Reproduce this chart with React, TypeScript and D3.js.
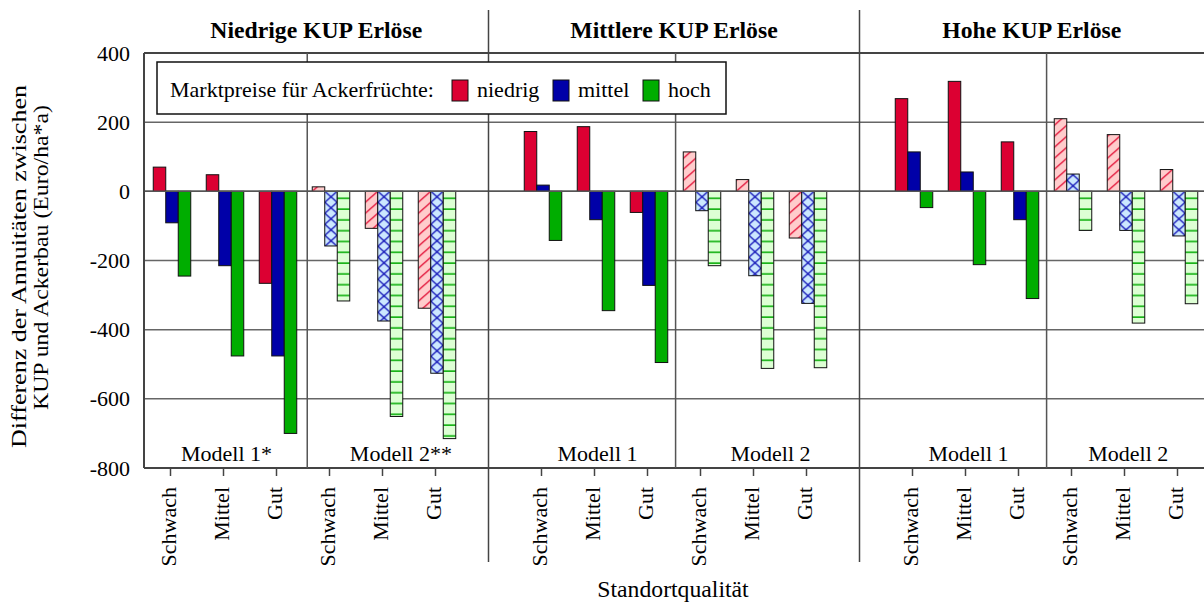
import * as d3 from "d3";
import React from "react";

const panelTitles = ["Niedrige KUP Erlöse", "Mittlere KUP Erlöse", "Hohe KUP Erlöse"];
const modelLabels = [
	["Modell 1*", "Modell 2**"],
	["Modell 1", "Modell 2"],
	["Modell 1", "Modell 2"],
];
const siteLabels = ["Schwach", "Mittel", "Gut"];
const priceLevels = ["niedrig", "mittel", "hoch"];
const yTicks = [400, 200, 0, -200, -400, -600, -800];

// order: panel (niedrig/mittel/hoch KUP) -> model (1/2) -> site (Schwach/Mittel/Gut)
const niedrigValues = [70, 48, -266, 13, -107, -338, 173, 187, -61, 114, 34, -135, 268, 318, 143, 210, 164, 63];
const mittelValues = [-91, -215, -476, -158, -375, -526, 18, -82, -272, -56, -244, -324, 114, 56, -82, 50, -113, -129];
const hochValues = [-245, -476, -700, -317, -651, -715, -142, -345, -495, -215, -512, -510, -47, -212, -310, -113, -381, -325];
const seriesValues = [niedrigValues, mittelValues, hochValues];

const solidColors = ["#dc0032", "#0000a8", "#00ad00"];
const lightColors = ["#ffcccc", "#cce8ff", "#ddffd4"];
const lineColors = ["#e0002a", "#0000b0", "#00aa00"];

const W = 1204;
const H = 603;
const plotLeft = 144;
const plotTop = 53;
const plotBottom = 468;
const barW = 12.5;
const font = "'Liberation Serif', 'Times New Roman', serif";
const fs = 22;

const App = () => {
	const xScale = d3.scaleLinear().domain([0.5, 20.5]).range([plotLeft, W]);
	const yScale = d3.scaleLinear().domain([-800, 400]).range([plotBottom, plotTop]);
	const y0 = yScale(0);

	const slot = (i: number) => {
		const p = Math.floor(i / 6);
		const m = Math.floor((i % 6) / 3);
		const s = i % 3;
		return { p, m, s, u: 1 + 7 * p + 3 * m + s };
	};

	const bars: any[] = [];
	seriesValues.forEach((vals, k) => {
		vals.forEach((v, i) => {
			const { m, u } = slot(i);
			const x = xScale(u) - 1.5 * barW + k * barW + 1.5;
			const yv = yScale(v);
			bars.push({ k, i, m, x, y: Math.min(yv, y0), h: Math.abs(yv - y0) });
		});
	});

	const patternFor = (b: any) => {
		const id = `pat-${b.k}-${b.i}`;
		if (b.k === 0) {
			return (
				<pattern key={id} id={id} patternUnits="userSpaceOnUse" x={b.x} y={y0} width={barW} height={11}>
					<rect width={barW} height={11} fill={lightColors[0]} />
					<path d={`M0,11 L${barW},0 M-3,3 L3,-3 M${barW - 3},14 L${barW + 3},8`} stroke={lineColors[0]} strokeWidth={1.3} />
				</pattern>
			);
		}
		if (b.k === 1) {
			return (
				<pattern key={id} id={id} patternUnits="userSpaceOnUse" x={b.x} y={y0} width={barW} height={11}>
					<rect width={barW} height={11} fill={lightColors[1]} />
					<path d={`M0,0 L${barW},11 M0,11 L${barW},0`} stroke={lineColors[1]} strokeWidth={1.3} />
				</pattern>
			);
		}
		return (
			<pattern key={id} id={id} patternUnits="userSpaceOnUse" x={b.x} y={y0} width={barW} height={10.8}>
				<rect width={barW} height={10.8} fill={lightColors[2]} />
				<path d={`M0,7 L${barW},7`} stroke={lineColors[2]} strokeWidth={1.5} />
			</pattern>
		);
	};

	const ticksU = d3.range(18).map((i) => slot(i));
	const subSeps = [3.58, 10.53, 17.53];

	return (
		<svg width={W} height={H} style={{ position: "absolute", left: 0, top: 0, background: "white" }} fontFamily={font}>
			<defs>{bars.filter((b) => b.m === 1).map(patternFor)}</defs>

			{/* grid */}
			{yTicks.slice(1, -1).map((t) => (
				<line key={t} x1={plotLeft} x2={W} y1={yScale(t)} y2={yScale(t)} stroke="#666" strokeWidth={1.5} />
			))}

			{/* bars */}
			{bars.map((b) => (
				<rect
					key={`${b.k}-${b.i}`}
					x={b.x}
					y={b.y}
					width={barW}
					height={b.h}
					fill={b.m === 0 ? solidColors[b.k] : `url(#pat-${b.k}-${b.i})`}
					stroke="#111"
					strokeWidth={1}
				/>
			))}

			<line x1={plotLeft} x2={W} y1={y0} y2={y0} stroke="#555" strokeWidth={1.5} />

			{/* frame */}
			<line x1={plotLeft} x2={W} y1={plotTop} y2={plotTop} stroke="#444" strokeWidth={2} />
			<line x1={plotLeft} x2={W} y1={plotBottom} y2={plotBottom} stroke="#444" strokeWidth={2} />
			<line x1={plotLeft} x2={plotLeft} y1={plotTop} y2={plotBottom} stroke="#444" strokeWidth={2} />
			{subSeps.map((u) => (
				<line key={u} x1={xScale(u)} x2={xScale(u)} y1={plotTop} y2={plotBottom} stroke="#555" strokeWidth={1.5} />
			))}
			{[7, 14].map((u) => (
				<line key={u} x1={xScale(u)} x2={xScale(u)} y1={10} y2={562} stroke="#444" strokeWidth={1.5} />
			))}

			{/* panel titles */}
			{panelTitles.map((t, p) => {
				const a = p === 0 ? plotLeft : xScale(7 * p);
				const b = p === 2 ? W : xScale(7 * (p + 1));
				return (
					<text key={t} x={(a + b) / 2} y={37.5} textAnchor="middle" fontWeight="bold" fontSize={23.7}>
						{t}
					</text>
				);
			})}

			{/* model labels */}
			{modelLabels.map((pair, p) =>
				pair.map((lab, m) => {
					const a = xScale(subSeps[p]);
					const b = p === 2 ? W : xScale(7 * (p + 1));
					const cx = m === 0 ? xScale(7 * p + 2) + 3 : (a + b) / 2 + 3;
					return (
						<text key={`${p}-${m}`} x={cx} y={460.5} textAnchor="middle" fontSize={fs}>
							{lab}
						</text>
					);
				})
			)}

			{/* x ticks */}
			{ticksU.map((t, i) => (
				<g key={i}>
					<line x1={xScale(t.u)} x2={xScale(t.u)} y1={plotBottom} y2={plotBottom + 8} stroke="#444" strokeWidth={1.5} />
					<text transform={`translate(${xScale(t.u) + 5},487) rotate(-90)`} textAnchor="end" fontSize={fs}>
						{siteLabels[t.s]}
					</text>
				</g>
			))}

			{/* y ticks */}
			{yTicks.map((t) => (
				<text key={t} x={130} y={yScale(t) + 7.5} textAnchor="end" fontSize={fs}>
					{t}
				</text>
			))}

			{/* axis titles */}
			<text
				transform="translate(26,266.5) rotate(-90)"
				textAnchor="middle"
				fontSize={fs}
				textLength={363}
				lengthAdjust="spacingAndGlyphs">
				Differenz der Annuitäten zwischen
			</text>
			<text
				transform="translate(48,257.5) rotate(-90)"
				textAnchor="middle"
				fontSize={fs}
				textLength={305}
				lengthAdjust="spacingAndGlyphs">
				KUP und Ackerbau (Euro/ha*a)
			</text>
			<text x={673} y={597} textAnchor="middle" fontSize={23.7}>
				Standortqualität
			</text>

			{/* legend */}
			<rect x={157} y={62} width={569} height={52} fill="white" stroke="#111" strokeWidth={1.5} />
			<text x={170} y={97} fontSize={fs}>
				Marktpreise für Ackerfrüchte:
			</text>
			{priceLevels.map((lab, k) => {
				const sx = [452, 553, 643][k];
				return (
					<g key={lab}>
						<rect x={sx} y={80} width={16} height={21} fill={solidColors[k]} stroke="#111" strokeWidth={1} />
						<text x={sx + 25} y={97} fontSize={fs}>
							{lab}
						</text>
					</g>
				);
			})}
		</svg>
	);
};

export default App;
